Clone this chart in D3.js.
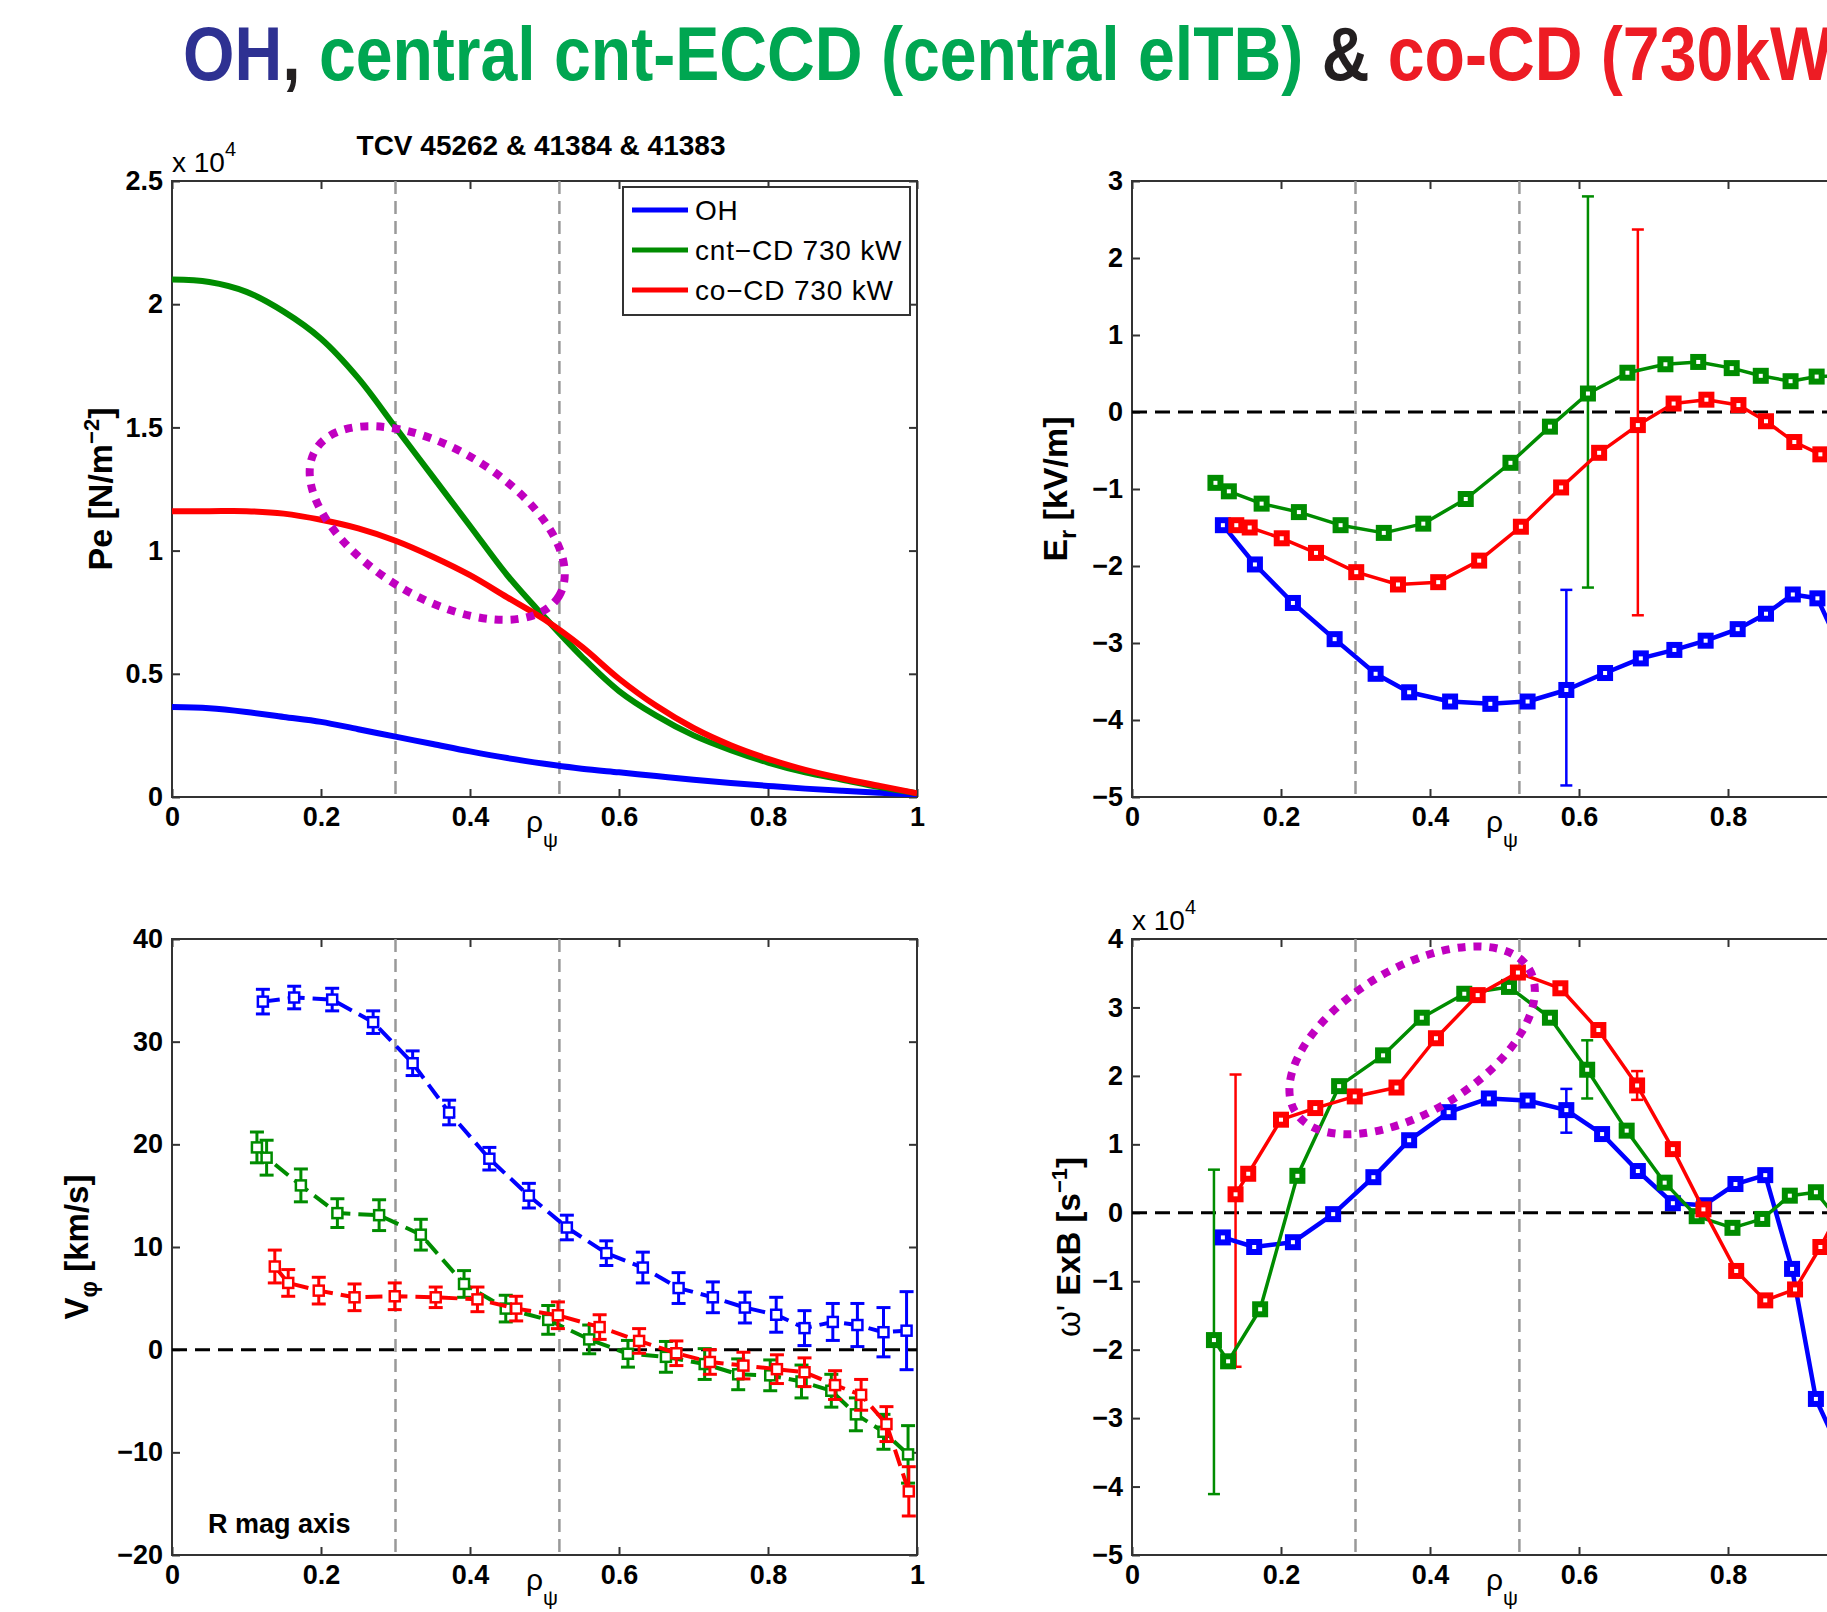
<!DOCTYPE html>
<html>
<head>
<meta charset="utf-8">
<script src="https://cdn.jsdelivr.net/npm/d3@7/dist/d3.min.js"></script>
<style>
  html, body { margin: 0; padding: 0; background: #fff; overflow: hidden; }
  svg { display: block; }
  text { font-family: "Liberation Sans", Arial, Helvetica, sans-serif; fill: #000; }
</style>
</head>
<body>
<div id="chart"></div>
<script>
// ---- data ----
const xTicks = [0, 0.2, 0.4, 0.6, 0.8, 1];
const markRho = [0.3, 0.52];

// top left: electron pressure (x 10^4 N/m^2)
const rhoPe = [0, 0.05, 0.1, 0.15, 0.2, 0.25, 0.3, 0.35, 0.4, 0.45, 0.5, 0.55, 0.6, 0.65, 0.7, 0.75, 0.8, 0.85, 0.9, 0.95, 1.0];
const peOH  = [0.365, 0.360, 0.345, 0.325, 0.305, 0.275, 0.245, 0.215, 0.185, 0.158, 0.135, 0.115, 0.100, 0.085, 0.070, 0.057, 0.045, 0.034, 0.025, 0.017, 0.010];
const peCnt = [2.10, 2.09, 2.05, 1.97, 1.86, 1.70, 1.50, 1.30, 1.10, 0.90, 0.73, 0.57, 0.43, 0.33, 0.25, 0.19, 0.14, 0.10, 0.07, 0.04, 0.015];
const peCo  = [1.16, 1.16, 1.16, 1.15, 1.125, 1.09, 1.04, 0.975, 0.90, 0.81, 0.72, 0.61, 0.48, 0.37, 0.28, 0.21, 0.155, 0.11, 0.075, 0.045, 0.015];
const peTicks = [0, 0.5, 1, 1.5, 2, 2.5];
const legendNames = ["OH", "cnt\u2212CD 730 kW", "co\u2212CD 730 kW"];

// top right: radial electric field (kV/m)
const erRhoOH  = [0.122, 0.165, 0.216, 0.272, 0.327, 0.372, 0.427, 0.481, 0.531, 0.583, 0.635, 0.683, 0.728, 0.770, 0.813, 0.851, 0.887, 0.920, 0.955];
const erOH     = [-1.47, -1.98, -2.48, -2.95, -3.40, -3.64, -3.76, -3.79, -3.76, -3.61, -3.39, -3.20, -3.09, -2.97, -2.82, -2.62, -2.37, -2.42, -3.15];
const erRhoCnt = [0.112, 0.130, 0.174, 0.224, 0.280, 0.338, 0.391, 0.448, 0.508, 0.561, 0.612, 0.665, 0.716, 0.760, 0.805, 0.844, 0.884, 0.919, 0.955];
const erCnt    = [-0.92, -1.03, -1.19, -1.30, -1.47, -1.57, -1.45, -1.13, -0.66, -0.19, 0.24, 0.51, 0.62, 0.65, 0.57, 0.47, 0.40, 0.46, 0.47];
const erRhoCo  = [0.140, 0.158, 0.201, 0.247, 0.301, 0.357, 0.411, 0.466, 0.522, 0.576, 0.627, 0.679, 0.727, 0.771, 0.814, 0.851, 0.889, 0.924, 0.958];
const erCo     = [-1.47, -1.50, -1.64, -1.83, -2.08, -2.24, -2.21, -1.93, -1.49, -0.98, -0.53, -0.17, 0.11, 0.16, 0.09, -0.12, -0.39, -0.55, -0.70];
const erBars   = [ // [series, rho, low, high]
  ["oh", 0.583, -4.85, -2.31],
  ["cnt", 0.612, -2.28, 2.80],
  ["co", 0.679, -2.64, 2.37]
];
const erTicks = [-5, -4, -3, -2, -1, 0, 1, 2, 3];

// bottom left: toroidal rotation (km/s)
const vRhoOH  = [0.122, 0.164, 0.215, 0.270, 0.323, 0.372, 0.426, 0.479, 0.530, 0.583, 0.632, 0.680, 0.726, 0.769, 0.811, 0.849, 0.887, 0.920, 0.955, 0.986];
const vOH     = [33.9, 34.3, 34.1, 31.9, 27.9, 23.1, 18.6, 15.0, 11.9, 9.4, 8.0, 6.0, 5.1, 4.1, 3.4, 2.1, 2.7, 2.4, 1.7, 1.85];
const vErrOH  = [1.2, 1.1, 1.1, 1.1, 1.2, 1.2, 1.1, 1.2, 1.2, 1.2, 1.5, 1.5, 1.5, 1.5, 1.7, 1.7, 1.8, 2.1, 2.4, 3.8];
const vRhoCnt = [0.114, 0.127, 0.173, 0.222, 0.278, 0.334, 0.392, 0.448, 0.505, 0.560, 0.612, 0.663, 0.715, 0.760, 0.803, 0.845, 0.885, 0.918, 0.955, 0.988];
const vCnt    = [19.7, 18.7, 16.0, 13.3, 13.1, 11.2, 6.4, 4.0, 2.9, 1.0, -0.4, -0.7, -1.4, -2.4, -2.5, -3.1, -4.0, -6.3, -8.0, -10.2];
const vErrCnt = [1.5, 1.7, 1.6, 1.4, 1.5, 1.5, 1.3, 1.3, 1.4, 1.4, 1.3, 1.5, 1.5, 1.5, 1.5, 1.6, 1.6, 1.6, 1.7, 2.8];
const vRhoCo  = [0.138, 0.156, 0.197, 0.245, 0.299, 0.354, 0.410, 0.462, 0.518, 0.574, 0.627, 0.677, 0.722, 0.767, 0.812, 0.849, 0.890, 0.925, 0.959, 0.989];
const vCo     = [8.1, 6.5, 5.75, 5.1, 5.2, 5.1, 4.9, 4.0, 3.35, 2.2, 0.85, -0.35, -1.2, -1.55, -1.9, -2.2, -3.45, -4.4, -7.25, -13.8];
const vErrCo  = [1.6, 1.3, 1.3, 1.3, 1.3, 1.0, 1.2, 1.2, 1.3, 1.2, 1.2, 1.2, 1.2, 1.3, 1.4, 1.4, 1.4, 1.5, 1.7, 2.4];
const vTicks  = [-20, -10, 0, 10, 20, 30, 40];

// bottom right: ExB shear (x 10^4 s^-1)
const wRhoOH  = [0.122, 0.164, 0.216, 0.270, 0.324, 0.372, 0.425, 0.479, 0.531, 0.583, 0.631, 0.679, 0.726, 0.768, 0.810, 0.850, 0.886, 0.918, 0.955];
const wOH     = [-0.36, -0.50, -0.43, -0.02, 0.52, 1.06, 1.47, 1.67, 1.64, 1.50, 1.15, 0.61, 0.14, 0.11, 0.42, 0.55, -0.82, -2.72, -3.6];
const wRhoCnt = [0.110, 0.129, 0.172, 0.222, 0.278, 0.337, 0.389, 0.446, 0.506, 0.561, 0.611, 0.664, 0.715, 0.758, 0.806, 0.846, 0.883, 0.918, 0.955];
const wCnt    = [-1.86, -2.17, -1.41, 0.54, 1.85, 2.30, 2.85, 3.20, 3.30, 2.85, 2.09, 1.20, 0.44, -0.05, -0.22, -0.09, 0.25, 0.30, -0.2];
const wRhoCo  = [0.139, 0.156, 0.200, 0.246, 0.299, 0.355, 0.408, 0.464, 0.518, 0.575, 0.626, 0.678, 0.726, 0.767, 0.811, 0.850, 0.890, 0.924, 0.958];
const wCo     = [0.27, 0.57, 1.36, 1.53, 1.70, 1.83, 2.55, 3.18, 3.51, 3.28, 2.67, 1.86, 0.93, 0.05, -0.85, -1.28, -1.12, -0.50, 0.2];
const wBars   = [
  ["oh", 0.583, 1.17, 1.81],
  ["cnt", 0.110, -4.11, 0.63],
  ["cnt", 0.611, 1.67, 2.52],
  ["co", 0.139, -2.25, 2.02],
  ["co", 0.678, 1.65, 2.07]
];
const wTicks = [-5, -4, -3, -2, -1, 0, 1, 2, 3, 4];

// ---- drawing ----
const W = 1827, H = 1612;
const PW = 745, PH = 616;
const colors = { oh: "#0000ff", cnt: "#008c00", co: "#ff0000" };
const magenta = "#c000c0";
const fmt = d3.format("~g");

const svg = d3.select("#chart").append("svg").attr("width", W).attr("height", H);

function makePanel(id, left, top, yDomain, yTicks) {
  const x = d3.scaleLinear().domain([0, 1]).range([left, left + PW]);
  const y = d3.scaleLinear().domain(yDomain).range([top + PH, top]);
  const g = svg.append("g");

  g.append("clipPath").attr("id", "clip-" + id)
    .append("rect").attr("x", left).attr("y", top).attr("width", PW).attr("height", PH);

  const axes = [
    [d3.axisBottom(x).tickValues(xTicks).tickFormat(fmt).tickPadding(10), `translate(0,${top + PH})`],
    [d3.axisTop(x).tickValues(xTicks).tickFormat(""), `translate(0,${top})`],
    [d3.axisLeft(y).tickValues(yTicks).tickFormat(fmt).tickPadding(9), `translate(${left},0)`],
    [d3.axisRight(y).tickValues(yTicks).tickFormat(""), `translate(${left + PW},0)`]
  ];
  axes.forEach(([ax, tr]) => {
    const a = g.append("g").attr("transform", tr)
      .call(ax.tickSizeInner(-8).tickSizeOuter(0));
    a.select(".domain").remove();
    a.selectAll("line").attr("stroke", "#333").attr("stroke-width", 2);
    a.selectAll("text").attr("font-size", 27).attr("font-weight", "bold")
      .attr("font-family", "Liberation Sans, Arial, sans-serif").attr("fill", "#000");
  });

  g.append("rect").attr("x", left).attr("y", top).attr("width", PW).attr("height", PH)
    .attr("fill", "none").attr("stroke", "#333").attr("stroke-width", 2);

  const plot = g.append("g").attr("clip-path", `url(#clip-${id})`);

  plot.selectAll("line.rho-mark").data(markRho).join("line")
    .attr("class", "rho-mark")
    .attr("x1", d => x(d)).attr("x2", d => x(d))
    .attr("y1", top).attr("y2", top + PH)
    .attr("stroke", "#999").attr("stroke-width", 2.5).attr("stroke-dasharray", "13,7");

  // x label: rho_psi
  const xl = g.append("text").attr("x", x(0.475)).attr("y", top + PH + 35)
    .attr("font-size", 30);
  xl.append("tspan").text("\u03c1");
  xl.append("tspan").attr("dy", 15).attr("font-size", 21).text("\u03c8");

  return { x, y, g, plot, left, top };
}

function zeroLine(p) {
  p.plot.append("line")
    .attr("x1", p.x(0)).attr("x2", p.x(1))
    .attr("y1", p.y(0)).attr("y2", p.y(0))
    .attr("stroke", "#000").attr("stroke-width", 3).attr("stroke-dasharray", "15,8");
}

function yLabel(p, dx, parts, size) {
  const cy = p.top + PH / 2;
  const t = p.g.append("text")
    .attr("transform", `translate(${p.left + dx},${cy}) rotate(-90)`)
    .attr("text-anchor", "middle").attr("dy", "0.35em")
    .attr("font-size", size || 33).attr("font-weight", "bold");
  parts.forEach(([s, kind]) => {
    const ts = t.append("tspan").text(s);
    if (kind === "sup") ts.attr("dy", -13).attr("font-size", 22);
    if (kind === "sub") ts.attr("dy", 9).attr("font-size", 23);
    if (kind === "back") ts.attr("dy", 13);
    if (kind === "backsub") ts.attr("dy", -9);
    if (kind === "thin") ts.attr("font-weight", "normal");
  });
}

function exponentLabel(p) {
  const t = p.g.append("text").attr("x", p.left).attr("y", p.top - 9).attr("font-size", 28);
  t.append("tspan").text("x 10");
  t.append("tspan").attr("dy", -16).attr("font-size", 20).text("4");
}

function markerSeries(p, rho, vals, color, opts) {
  const pts = rho.map((r, i) => [r, vals[i]]);
  const line = d3.line().x(d => p.x(d[0])).y(d => p.y(d[1]));
  p.plot.append("path").datum(pts)
    .attr("d", line).attr("fill", "none")
    .attr("stroke", color).attr("stroke-width", opts.lw)
    .attr("stroke-dasharray", opts.dash || null)
    .attr("stroke-linejoin", "round");
  const s = opts.size;
  p.plot.selectAll(null).data(pts).join("rect")
    .attr("x", d => p.x(d[0]) - s / 2).attr("y", d => p.y(d[1]) - s / 2)
    .attr("width", s).attr("height", s)
    .attr("fill", "#fff").attr("stroke", color).attr("stroke-width", opts.mw);
}

function errorBars(p, bars, cap, lw) {
  bars.forEach(([key, r, lo, hi]) => {
    const g = p.plot.append("g").attr("stroke", colors[key]).attr("stroke-width", lw);
    const cx = p.x(r);
    g.append("line").attr("x1", cx).attr("x2", cx).attr("y1", p.y(lo)).attr("y2", p.y(hi));
    [lo, hi].forEach(v => g.append("line")
      .attr("x1", cx - cap / 2).attr("x2", cx + cap / 2)
      .attr("y1", p.y(v)).attr("y2", p.y(v)));
  });
}

function highlight(p, rho, val, rx, ry, angle) {
  p.g.append("ellipse")
    .attr("transform", `translate(${p.x(rho)},${p.y(val)}) rotate(${angle})`)
    .attr("rx", rx).attr("ry", ry)
    .attr("fill", "none").attr("stroke", magenta).attr("stroke-width", 8)
    .attr("stroke-dasharray", "8,8");
}

// --- title (condensed by a horizontal scale) ---
const title = svg.append("text").attr("transform", "translate(183,80) scale(0.87,1)")
  .attr("font-family", "Liberation Sans Narrow, Arial Narrow, Liberation Sans, sans-serif")
  .attr("font-size", 76).attr("font-weight", "bold");
title.append("tspan").attr("fill", "#2e3192").text("OH");
title.append("tspan").attr("fill", "#231f20").text(", ");
title.append("tspan").attr("fill", "#00a651").text("central cnt-ECCD (central elTB)");
title.append("tspan").attr("fill", "#231f20").text(" & ");
title.append("tspan").attr("fill", "#ed1c24").text("co-CD (730kW)");

// --- top left: Pe ---
const pPe = makePanel("pe", 172, 181, [0, 2.5], peTicks);
exponentLabel(pPe);
pPe.g.append("text").attr("x", 541).attr("y", 155).attr("text-anchor", "middle")
  .attr("font-size", 28).attr("font-weight", "bold").text("TCV 45262 & 41384 & 41383");
yLabel(pPe, -72, [["Pe [N/m"], ["\u22122", "sup"], ["]", "back"]], 34);

const smooth = d3.line().x(d => pPe.x(d[0])).y(d => pPe.y(d[1])).curve(d3.curveCatmullRom.alpha(0.5));
[["oh", peOH], ["cnt", peCnt], ["co", peCo]].forEach(([k, vals]) => {
  pPe.plot.append("path").datum(rhoPe.map((r, i) => [r, vals[i]]))
    .attr("d", smooth).attr("fill", "none")
    .attr("stroke", colors[k]).attr("stroke-width", 6);
});
highlight(pPe, 0.356, 1.112, 142, 74, 31);

// legend
const lg = pPe.g.append("g").attr("transform", `translate(${pPe.x(1) - 294},${pPe.top + 6})`);
lg.append("rect").attr("width", 287).attr("height", 128)
  .attr("fill", "#fff").attr("stroke", "#333").attr("stroke-width", 2);
["oh", "cnt", "co"].forEach((k, i) => {
  const yy = 23 + i * 40;
  lg.append("line").attr("x1", 9).attr("x2", 65).attr("y1", yy).attr("y2", yy)
    .attr("stroke", colors[k]).attr("stroke-width", 5);
  lg.append("text").attr("x", 72).attr("y", yy).attr("dy", "0.36em")
    .attr("font-size", 28).attr("letter-spacing", 0.8).text(legendNames[i]);
});

// --- top right: Er ---
const pEr = makePanel("er", 1132, 181, [-5, 3], erTicks);
yLabel(pEr, -77, [["E"], ["r", "sub"], [" [kV/m]", "backsub"]], 34);
zeroLine(pEr);
errorBars(pEr, erBars, 12, 2.5);
const solidOpts = { lw: 3.5, size: 10, mw: 6 };
markerSeries(pEr, erRhoOH, erOH, colors.oh, { ...solidOpts, lw: 4.5 });
markerSeries(pEr, erRhoCnt, erCnt, colors.cnt, solidOpts);
markerSeries(pEr, erRhoCo, erCo, colors.co, solidOpts);

// --- bottom left: V_phi ---
const pV = makePanel("v", 172, 939, [-20, 40], vTicks);
yLabel(pV, -96, [["V"], ["\u03c6", "sub"], [" [km/s]", "backsub"]]);
zeroLine(pV);
const dashOpts = { lw: 4, size: 10, mw: 2.5, dash: "17,8" };
[["oh", vRhoOH, vOH, vErrOH], ["cnt", vRhoCnt, vCnt, vErrCnt], ["co", vRhoCo, vCo, vErrCo]]
  .forEach(([k, rho, vals, errs]) => {
    errorBars(pV, rho.map((r, i) => [k, r, vals[i] - errs[i], vals[i] + errs[i]]), 14, 3);
    markerSeries(pV, rho, vals, colors[k], dashOpts);
  });
pV.g.append("text").attr("x", pV.left + 36).attr("y", pV.top + PH - 22)
  .attr("font-size", 27).attr("font-weight", "bold").text("R mag axis");

// --- bottom right: omega' ExB ---
const pW = makePanel("w", 1132, 939, [-5, 4], wTicks);
exponentLabel(pW);
yLabel(pW, -64, [["\u03c9' ", "thin"], ["ExB [s"], ["\u22121", "sup"], ["]", "back"]]);
zeroLine(pW);
errorBars(pW, wBars, 12, 2.5);
markerSeries(pW, wRhoOH, wOH, colors.oh, { ...solidOpts, lw: 4.5 });
markerSeries(pW, wRhoCnt, wCnt, colors.cnt, solidOpts);
markerSeries(pW, wRhoCo, wCo, colors.co, solidOpts);
highlight(pW, 0.376, 2.52, 137, 71.5, -31.4);
</script>
</body>
</html>
